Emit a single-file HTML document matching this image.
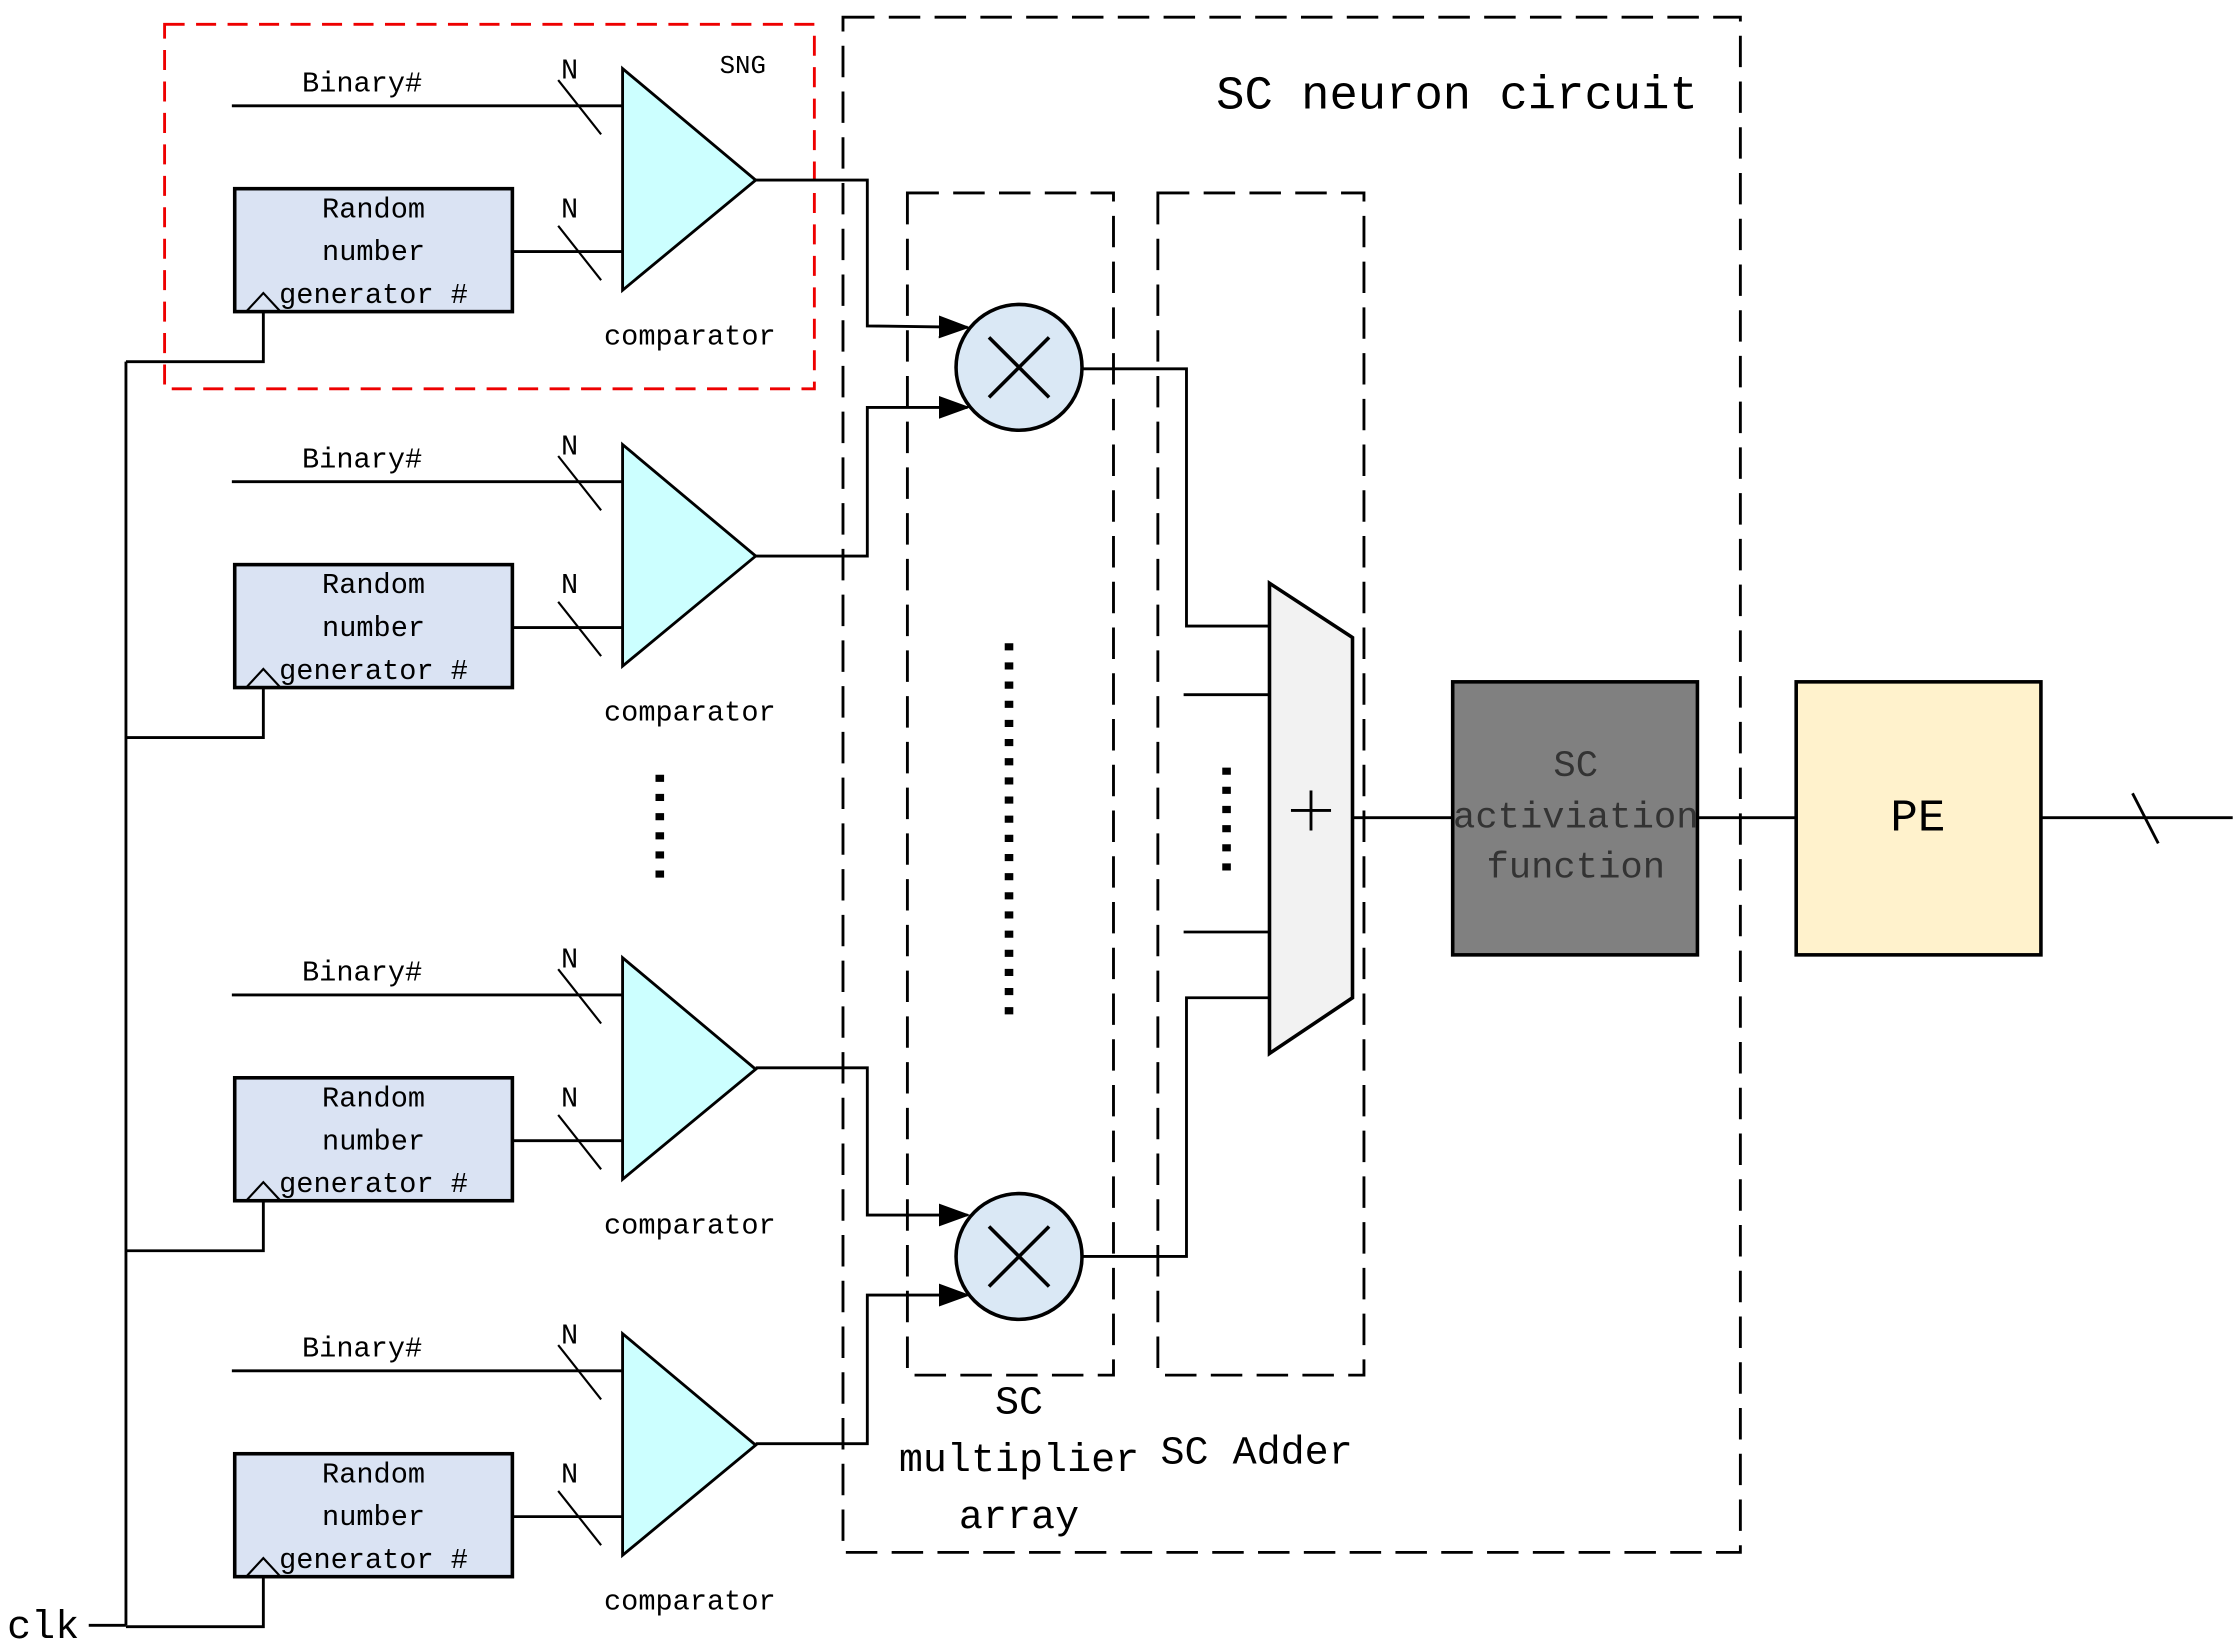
<!DOCTYPE html>
<html><head><meta charset="utf-8"><style>html,body{margin:0;padding:0;background:#fff}svg{display:block}</style></head>
<body>
<svg width="2237" height="1651" viewBox="0 0 1563 1155" preserveAspectRatio="none" xmlns="http://www.w3.org/2000/svg" font-family="'Liberation Mono', monospace">
<defs>
<marker id="ar" markerWidth="22" markerHeight="16" refX="20" refY="8" orient="auto" markerUnits="userSpaceOnUse"><path d="M0,0 L22,8 L0,16 z" fill="#000"/></marker>
<g id="sng">
<text x="253" y="64" font-size="20" text-anchor="middle">Binary#</text>
<line x1="162" y1="74" x2="435" y2="74" stroke="#000" stroke-width="2"/>
<line x1="390" y1="56" x2="420" y2="94" stroke="#000" stroke-width="1.5"/>
<text x="398" y="55" font-size="20" text-anchor="middle">N</text>
<rect x="164" y="132" width="194" height="86" fill="#dae3f3" stroke="#000" stroke-width="2.5"/>
<text x="261" y="152" font-size="20" text-anchor="middle">Random</text>
<text x="261" y="182" font-size="20" text-anchor="middle">number</text>
<text x="261" y="212" font-size="20" text-anchor="middle">generator #</text>
<polyline points="172,218 184,205 196,218" fill="none" stroke="#000" stroke-width="1.5"/>
<line x1="358" y1="176" x2="435" y2="176" stroke="#000" stroke-width="2"/>
<line x1="390" y1="158" x2="420" y2="196" stroke="#000" stroke-width="1.5"/>
<text x="398" y="152" font-size="20" text-anchor="middle">N</text>
<polygon points="435,48 528,126 435,203" fill="#ccffff" stroke="#000" stroke-width="2"/>
<text x="482" y="241" font-size="20" text-anchor="middle">comparator</text>
<polyline points="184,218 184,253 88,253" fill="none" stroke="#000" stroke-width="2"/>
</g>
</defs>
<rect x="115" y="17" width="454" height="255" fill="none" stroke="#e00" stroke-width="2" stroke-dasharray="14,8"/>
<rect x="589" y="12" width="627" height="1074" fill="none" stroke="#000" stroke-width="2" stroke-dasharray="22,10"/>
<rect x="634" y="135" width="144" height="827" fill="none" stroke="#000" stroke-width="2" stroke-dasharray="22,10"/>
<rect x="809" y="135" width="144" height="827" fill="none" stroke="#000" stroke-width="2" stroke-dasharray="22,10"/>
<text x="1018" y="76" font-size="33" text-anchor="middle">SC neuron circuit</text>
<text x="519" y="51" font-size="18" text-anchor="middle">SNG</text>
<use href="#sng"/>
<use href="#sng" transform="translate(0,263)"/>
<use href="#sng" transform="translate(0,622)"/>
<use href="#sng" transform="translate(0,885)"/>
<line x1="88" y1="253" x2="88" y2="1137" stroke="#000" stroke-width="2"/>
<line x1="62" y1="1137" x2="88" y2="1137" stroke="#000" stroke-width="2"/>
<text x="5" y="1146" font-size="28">clk</text>
<g fill="none" stroke="#000" stroke-width="2">
<polyline points="528,126 606,126 606,228 676,229" marker-end="url(#ar)"/>
<polyline points="528,389 606,389 606,285 676,285" marker-end="url(#ar)"/>
<polyline points="528,747 606,747 606,850 676,850" marker-end="url(#ar)"/>
<polyline points="528,1010 606,1010 606,906 676,906" marker-end="url(#ar)"/>
<polyline points="756,258 829,258 829,438 887,438"/>
<polyline points="756,879 829,879 829,698 887,698"/>
<line x1="827" y1="486" x2="887" y2="486"/>
<line x1="827" y1="652" x2="887" y2="652"/>
<line x1="945" y1="572" x2="1015" y2="572"/>
<line x1="1186" y1="572" x2="1255" y2="572"/>
<line x1="1426" y1="572" x2="1560" y2="572"/>
<line x1="1490" y1="555" x2="1508" y2="590"/>
</g>
<g stroke="#000" stroke-width="2.5">
<circle cx="712" cy="257" r="44" fill="#dae8f5"/>
<line x1="691" y1="236" x2="733" y2="278"/><line x1="733" y1="236" x2="691" y2="278"/>
<circle cx="712" cy="879" r="44" fill="#dae8f5"/>
<line x1="691" y1="858" x2="733" y2="900"/><line x1="733" y1="858" x2="691" y2="900"/>
</g>
<line x1="705" y1="450" x2="705" y2="712" stroke="#000" stroke-width="6" stroke-dasharray="5,8.4" />
<line x1="461" y1="542" x2="461" y2="618" stroke="#000" stroke-width="6" stroke-dasharray="5,8.4"/>
<line x1="857" y1="537" x2="857" y2="613" stroke="#000" stroke-width="6" stroke-dasharray="5,8.4"/>
<polygon points="887,408 945,446 945,698 887,737" fill="#f2f2f2" stroke="#000" stroke-width="2.5"/>
<line x1="902" y1="567" x2="930" y2="567" stroke="#000" stroke-width="2"/>
<line x1="916" y1="553" x2="916" y2="581" stroke="#000" stroke-width="2"/>
<rect x="1015" y="477" width="171" height="191" fill="#808080" stroke="#000" stroke-width="2.5"/>
<text x="1101" y="543" font-size="26" text-anchor="middle" fill="#333">SC</text>
<text x="1101" y="579" font-size="26" text-anchor="middle" fill="#333">activiation</text>
<text x="1101" y="614" font-size="26" text-anchor="middle" fill="#333">function</text>
<rect x="1255" y="477" width="171" height="191" fill="#fff2cc" stroke="#000" stroke-width="2.5"/>
<text x="1340" y="581" font-size="32" text-anchor="middle">PE</text>
<text x="712" y="989" font-size="28" text-anchor="middle">SC</text>
<text x="712" y="1029" font-size="28" text-anchor="middle">multiplier</text>
<text x="712" y="1069" font-size="28" text-anchor="middle">array</text>
<text x="878" y="1024" font-size="28" text-anchor="middle">SC Adder</text>
</svg>
</body></html>
